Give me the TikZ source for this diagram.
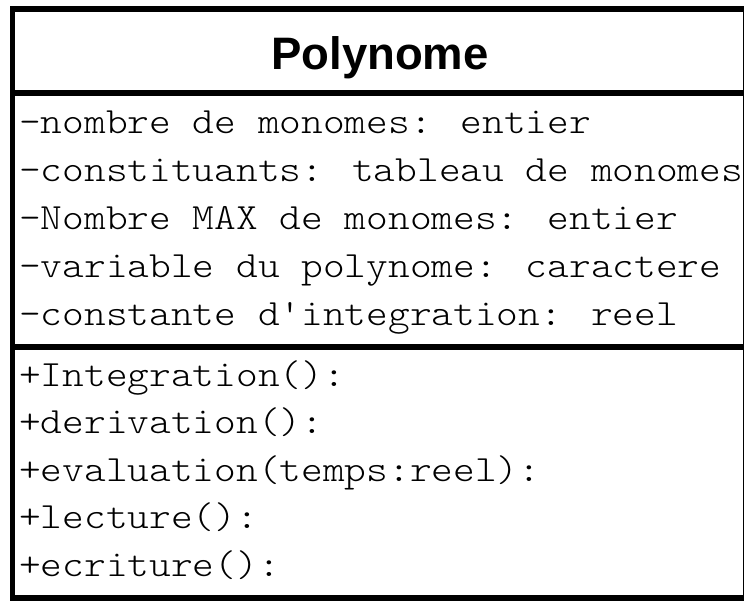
\documentclass[tikz,border=0pt]{standalone}
\usepackage{fontspec}
\newfontfamily\monof[FakeStretch=1.118]{Latin Modern Mono Light}
\newfontfamily\titlef{Liberation Sans}
\begin{document}
\begin{tikzpicture}[x=1pt,y=-1pt,
  member/.style={anchor=base west,inner sep=0pt,font=\monof\fontsize{37}{40}\selectfont},
  title/.style={anchor=base,inner sep=0pt,font=\titlef\bfseries\fontsize{45.5}{50}\selectfont},
  border/.style={line width=5.5pt,draw=black}]
\useasboundingbox (0,0) rectangle (744,602);
\fill[white] (0,0) rectangle (744,602);
\begin{scope}
\clip (0,0) rectangle (744,602);
\draw[border] (12.5,9) rectangle (745.5,598);
\draw[border] (12.5,93) -- (745.5,93);
\draw[border] (12.5,347) -- (745.5,347);
\end{scope}
\node[title] (t) at (380,70) {Polynome};
\node[member] (a1) at (19,133) {-nombre de monomes: entier};
\node[member] (a2) at (19,181) {-constituants: tableau de monomes};
\node[member] (a3) at (19,229) {-Nombre MAX de monomes: entier};
\node[member] (a4) at (19,277) {-variable du polynome: caractere};
\node[member] (a5) at (19,325) {-constante d'integration: reel};
\node[member] (m1) at (19,386) {+Integration():};
\node[member] (m2) at (19,433.5) {+derivation():};
\node[member] (m3) at (19,481) {+evaluation(temps:reel):};
\node[member] (m4) at (19,528.5) {+lecture():};
\node[member] (m5) at (19,576) {+ecriture():};
\end{tikzpicture}
\end{document}
